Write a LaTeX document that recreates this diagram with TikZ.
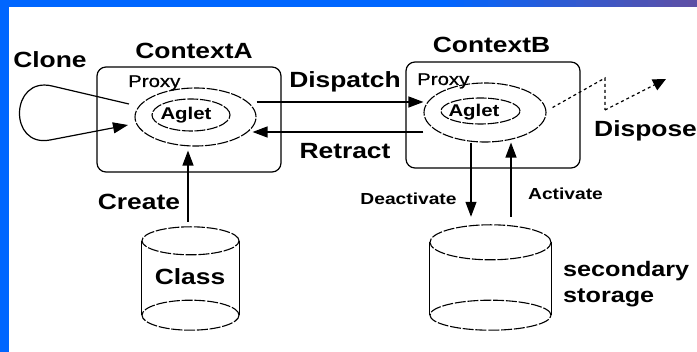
\documentclass[tikz,border=0pt]{standalone}
\usepackage{fontspec}
\setmainfont{Liberation Sans}
\newfontfamily\lblfont{Liberation Sans}[FakeStretch=1.2]
\newfontfamily\proxyfont{Liberation Sans}[FakeStretch=1.2, FakeBold=0.7]
\usetikzlibrary{arrows.meta,shapes.geometric,calc}

\definecolor{barblue}{HTML}{0066FF}
\definecolor{barpurple}{HTML}{5E4FA5}

\tikzset{
  bigtext/.style={font=\lblfont\bfseries\fontsize{22}{26}\selectfont, inner sep=0pt},
  midtext/.style={font=\lblfont\bfseries\fontsize{21}{25}\selectfont, inner sep=0pt},
  smalltext/.style={font=\lblfont\bfseries\fontsize{16}{19}\selectfont, inner sep=0pt},
  proxytext/.style={font=\proxyfont\fontsize{17}{20}\selectfont, inner sep=0pt},
  aglettext/.style={font=\lblfont\bfseries\fontsize{17}{20}\selectfont, inner sep=0pt},
  ctxbox/.style={draw, rounded corners=9pt, line width=1.2pt, inner sep=0pt},
  dashell/.style={draw, ellipse, dash pattern=on 11pt off 1.6pt, line width=1.1pt, inner sep=0pt},
  cylbody/.style={inner sep=0pt},
  cylrim/.style={dash pattern=on 11pt off 1.8pt, line width=1.1pt},
  cylside/.style={line width=1.1pt},
  flow/.style={line width=1.2pt, -{Triangle[length=15pt,width=11pt]}},
  dotline/.style={line width=1.2pt, dash pattern=on 3pt off 3pt},
}

\begin{document}
\begin{tikzpicture}[x=1pt, y=-1pt]
\useasboundingbox (0,0) rectangle (697,352);

% page frame: white sheet, blue bar fading to purple on top, blue bar on the left
\fill[white] (0,0) rectangle (697,352);
\fill[barblue] (0,0) rectangle (441,7.3);
\foreach \i in {0,...,31} {
  \pgfmathsetmacro{\mix}{100-100*\i/31}
  \fill[barblue!\mix!barpurple] ({440+8*\i},0) rectangle ({440+8*\i+8.6},7.3);
}
\fill[barblue] (0,0) rectangle (8.5,352);

% contexts
\node[ctxbox, minimum width=184pt, minimum height=105pt] (ctxA) at (189,119.5) {};
\node[ctxbox, minimum width=174pt, minimum height=106pt] (ctxB) at (493,115) {};
\node[bigtext, anchor=base] (ctxAlbl) at (194,58.3) {ContextA};
\node[bigtext, anchor=base] (ctxBlbl) at (491.5,53) {ContextB};

% proxies and aglets
\node[dashell, minimum width=121pt, minimum height=58pt] (proxyA) at (195.5,117) {};
\node[dashell, minimum width=78pt, minimum height=32pt] (agletA) at (191,115) {};
\node[dashell, minimum width=122pt, minimum height=59pt] (proxyB) at (485,112.5) {};
\node[dashell, minimum width=79pt, minimum height=26pt] (agletB) at (480.5,111) {};
\node[proxytext, anchor=base west] (pxAlbl) at (128,87) {Proxy};
\node[proxytext, anchor=base west] (pxBlbl) at (417,85) {Proxy};
\node[aglettext, anchor=base] (agAlbl) at (186,120) {Aglet};
\node[aglettext, anchor=base] (agBlbl) at (474,116.5) {Aglet};

% class store
\node[cylbody, minimum width=97pt, minimum height=103pt] (class) at (190.5,278.5) {};
\draw[cylrim] ($(class.north)+(0,14)$) ellipse [x radius=48.5pt, y radius=14pt];
\draw[cylrim] ($(class.south)+(0,-15)$) ellipse [x radius=48.5pt, y radius=15pt];
\draw[cylside] ($(class.north west)+(0,14)$) -- ($(class.south west)+(0,-15)$);
\draw[cylside] ($(class.north east)+(0,14)$) -- ($(class.south east)+(0,-15)$);
\node[bigtext, anchor=base] (classlbl) at (190,285) {Class};

% secondary storage
\node[cylbody, minimum width=121pt, minimum height=105pt] (storage) at (490.5,277.5) {};
\draw[cylrim] ($(storage.north)+(0,17.5)$) ellipse [x radius=60.5pt, y radius=17.5pt];
\draw[cylrim] ($(storage.south)+(0,-15)$) ellipse [x radius=60.5pt, y radius=15pt];
\draw[cylside] ($(storage.north west)+(0,17.5)$) -- ($(storage.south west)+(0,-15)$);
\draw[cylside] ($(storage.north east)+(0,17.5)$) -- ($(storage.south east)+(0,-15)$);
\node[midtext, anchor=base west, align=left] (storelbl1) at (563,277) {secondary};
\node[midtext, anchor=base west, align=left] (storelbl2) at (563,303) {storage};

% clone loop
\coordinate (cl1) at ($(proxyA.center)+(-66.5,-13)$);
\coordinate (cl2) at (52,86);
\coordinate (cl3) at (50,140);
\coordinate (cl4) at ($(proxyA.center)+(-67.5,8)$);
\draw[flow] (cl1) -- (cl2) .. controls (10,76) and (8,148) .. (cl3) -- (cl4);
\node[bigtext, anchor=base] (clonelbl) at (50,68) {Clone};

% dispatch / retract
\coordinate (dA) at ($(proxyA.east)+(0,-15)$);
\draw[flow] (dA) -- (dA -| proxyB.west);
\coordinate (rB) at ($(proxyB.west)+(0,19.5)$);
\draw[flow, shorten >=-4pt] (rB) -- (rB -| proxyA.east);
\node[bigtext, anchor=base] (displbl) at (345,88) {Dispatch};
\node[bigtext, anchor=base] (retrlbl) at (345,159) {Retract};

% create
\coordinate (cr) at ($(class.north)+(-2.5,-5)$);
\draw[flow, shorten >=4pt] (cr) -- (cr |- proxyA.south);
\node[bigtext, anchor=base] (createlbl) at (139,210) {Create};

% deactivate / activate
\coordinate (de) at ($(proxyB.south)+(-14,0)$);
\draw[flow] (de) -- ($(de |- storage.north)+(0,-8)$);
\coordinate (ac) at ($(proxyB.south)+(26,0)$);
\draw[flow] ($(ac |- storage.north)+(0,-8)$) -- (ac);
\node[smalltext, anchor=base] (deactlbl) at (408.5,205) {Deactivate};
\node[smalltext, anchor=base] (actlbl) at (565.5,200) {Activate};

% dispose
\coordinate (ds) at ($(proxyB.east)+(6,-5)$);
\coordinate (dk1) at (605,78);
\coordinate (dk2) at (605,110);
\coordinate (dt) at (666,79);
\draw[dotline] (ds) -- (dk1) -- (dk2);
\draw[dotline, -{Triangle[length=13pt,width=12pt]}] (dk2) -- (dt);
\node[bigtext, anchor=base west] (displbl2) at (594,137) {Dispose};
\end{tikzpicture}
\end{document}
